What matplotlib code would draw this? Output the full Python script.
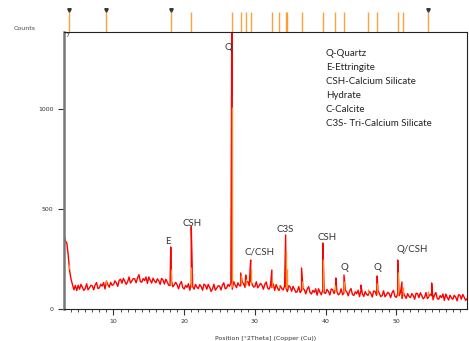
import numpy as np
import matplotlib.pyplot as plt

# measured pattern, 0.2 deg steps from 3.0 to 60.0 (counts)
theta_start = 3.0
theta_step = 0.2
counts = [
    372, 340, 330, 268, 190,
    148, 122, 96, 118, 92,
    119, 99, 123, 109, 93,
    102, 126, 96, 106, 118,
    116, 96, 120, 132, 102,
    106, 124, 114, 132, 100,
    139, 122, 109, 133, 119,
    121, 141, 131, 113, 143,
    149, 129, 153, 139, 123,
    136, 160, 130, 140, 152,
    151, 131, 155, 172, 137,
    134, 152, 142, 160, 128,
    160, 143, 130, 154, 140,
    131, 151, 141, 123, 153,
    145, 125, 149, 135, 119,
    117, 141, 111, 121, 133,
    121, 101, 125, 137, 107,
    100, 118, 108, 126, 94,
    129, 112, 99, 123, 109,
    102, 122, 112, 94, 124,
    119, 99, 123, 109, 88,
    100, 124, 94, 104, 116,
    115, 95, 119, 131, 101,
    105, 123, 113, 131, 99,
    137, 120, 107, 131, 117,
    116, 136, 126, 108, 138,
    136, 116, 140, 126, 110,
    112, 136, 106, 116, 128,
    119, 99, 123, 135, 105,
    99, 117, 107, 125, 93,
    122, 105, 92, 116, 102,
    95, 115, 105, 87, 117,
    109, 89, 113, 99, 83,
    88, 112, 82, 92, 104,
    96, 76, 100, 112, 82,
    75, 93, 83, 101, 69,
    101, 84, 71, 95, 81,
    78, 98, 88, 70, 100,
    97, 77, 101, 87, 71,
    77, 101, 71, 81, 93,
    86, 66, 90, 102, 72,
    68, 86, 76, 94, 62,
    93, 76, 63, 87, 73,
    68, 88, 78, 60, 90,
    88, 68, 92, 78, 62,
    67, 91, 61, 71, 83,
    77, 57, 81, 93, 63,
    58, 76, 66, 84, 52,
    83, 66, 53, 77, 63,
    57, 77, 67, 49, 79,
    77, 57, 81, 67, 51,
    58, 82, 52, 62, 74,
    66, 46, 70, 82, 52,
    49, 67, 57, 75, 43,
    75, 58, 45, 69, 55,
    49, 69, 59, 41, 71,
    69, 49, 73, 59, 43,
    52,
]

# sharp reflections (position, peak top)
peak_pos = [18.1, 21.0, 26.75, 28.0, 28.7, 29.4, 32.4, 34.35, 36.6, 39.6,
            41.45, 42.6, 45.0, 47.3, 50.2, 50.8, 55.0]
peak_top = [310, 412, 1600, 180, 170, 245, 195, 370, 205, 330,
            155, 170, 120, 165, 245, 135, 130]

# reference pattern sticks
ref_pos = [3.7, 8.9, 18.1, 21.0, 26.8, 28.0, 28.7, 29.4, 32.4, 33.4, 34.4,
           34.5, 36.6, 39.6, 41.4, 42.6, 46.0, 47.3, 50.2, 50.9, 54.5]
ref_lo = [200, 120, 120, 110, 110, 120, 120, 120, 110, 105, 105,
          105, 95, 90, 85, 82, 78, 76, 72, 70, 65]
ref_hi = [225, 145, 200, 210, 1010, 170, 150, 200, 150, 120, 290,
          200, 140, 250, 120, 140, 100, 130, 185, 110, 90]
marked = [3.7, 8.9, 18.1, 54.5]

labels = ['Q', 'E', 'CSH', 'C/CSH', 'C3S', 'CSH', 'Q', 'Q', 'Q/CSH']
label_x = [26.2, 17.7, 21.1, 30.7, 34.3, 40.2, 42.7, 47.3, 52.2]
label_y = [1310, 340, 425, 285, 400, 360, 210, 205, 295]

legend_lines = ['Q-Quartz', 'E-Ettringite', 'CSH-Calcium Silicate', 'Hydrate',
                'C-Calcite', 'C3S- Tri-Calcium Silicate']

if __name__ == '__main__':
    theta = theta_start + theta_step * np.arange(len(counts))
    x = np.concatenate([theta, peak_pos])
    y = np.concatenate([counts, peak_top])
    order = np.argsort(x, kind='stable')
    x, y = x[order], y[order]

    fig = plt.figure(figsize=(4.69, 3.41), dpi=100)
    ax = fig.add_axes([64 / 469, 32 / 341, 403 / 469, 277 / 341])
    ax.plot(x, y, color='#ff0000', lw=1.0, zorder=2)
    ax.vlines(ref_pos, ref_lo, ref_hi, color='#f7931e', lw=1.0, zorder=3)
    ax.set_xlim(3, 60)
    ax.set_ylim(0, 1385)

    ax.set_yticks([0, 500, 1000])
    ax.set_xticks([10, 20, 30, 40, 50])
    ax.set_xticks(np.arange(4, 60), minor=True)
    ax.tick_params(labelsize=4.5, colors='#333333', length=4, width=0.8)
    ax.tick_params(which='minor', length=2, width=0.6, color='#333333')
    for s in ['top', 'right', 'bottom']:
        ax.spines[s].set_linewidth(0.8)
        ax.spines[s].set_color('#222222')
    ax.spines['left'].set_linewidth(1.8)
    ax.spines['left'].set_color('#777777')

    ax.set_xlabel('Position [°2Theta] (Copper (Cu))', fontsize=4.5, color='#333333', labelpad=8)
    fig.text(14 / 469, 1 - 28 / 341, 'Counts', fontsize=4.5, color='#444444', va='center')
    ax.text(0.004, 0.995, '7', transform=ax.transAxes, fontsize=4.5, color='#444444',
            va='top', ha='left')

    for t, lx, ly in zip(labels, label_x, label_y):
        ax.text(lx, ly, t, fontsize=7, family='Lato', color='#333333', ha='center', va='center')

    for i, line in enumerate(legend_lines):
        fig.text(326 / 469, 1 - (53 + 14.2 * i) / 341, line, fontsize=7, family='Lato',
                 color='#222222', va='center', ha='left')

    # reference strip above the plot
    strip = fig.add_axes([64 / 469, 1 - 32 / 341, 403 / 469, 20 / 341])
    strip.set_xlim(3, 60)
    strip.set_ylim(0, 1)
    strip.axis('off')
    strip.vlines(ref_pos, 0, 1, color='#f7931e', lw=1.0, alpha=0.85)
    strip.plot(marked, [1.1] * len(marked), 'v', color='#333333', ms=2.5, clip_on=False)

    fig.savefig('out.png', dpi=100)
